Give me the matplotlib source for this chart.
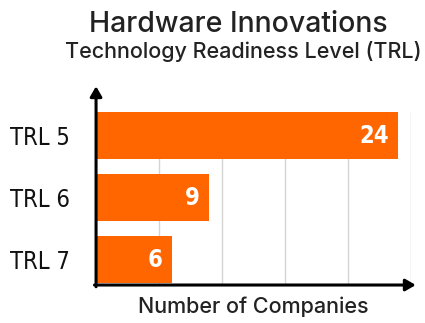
import matplotlib.pyplot as plt

categories = ["TRL 5", "TRL 6", "TRL 7"]
companies = [24, 9, 6]
grid_ticks = [5, 10, 15, 20, 25]

orange = "#FF6600"
ink = "#222222"

fig = plt.figure(figsize=(4.25, 3.23), dpi=100)
ax = fig.add_axes([0.226, 0.1176, 0.741, 0.535])

ypos = list(range(len(categories)))
ax.barh(ypos, companies, height=0.76, color=orange, zorder=2)
ax.set_ylim(2.41, -0.38)
ax.set_xlim(0, 25)

for y, v in zip(ypos, companies):
    ax.text(v - 0.75, y, str(v), ha="right", va="center", color="white",
            fontsize=17, fontweight="bold", family="DejaVu Sans", fontstretch="condensed",
            zorder=3)

ax.set_yticks(ypos)
ax.set_yticklabels(categories, family="DejaVu Sans", fontstretch="condensed",
                   fontsize=17, color="#111111")
ax.tick_params(axis="y", length=0, pad=19)
ax.set_xticks(grid_ticks)
ax.tick_params(axis="x", length=0, labelbottom=False)
ax.grid(axis="x", color="#d4d4d4", linewidth=1, zorder=0)

for s in ax.spines.values():
    s.set_visible(False)

# axis arrows
ax.annotate("", xy=(1.015, 0), xytext=(-0.005, 0), xycoords="axes fraction",
            arrowprops=dict(arrowstyle="-|>,head_length=0.6,head_width=0.35",
                            color="black", lw=2.2, shrinkA=0, shrinkB=0),
            annotation_clip=False)
ax.annotate("", xy=(0, 1.15), xytext=(0, -0.01), xycoords="axes fraction",
            arrowprops=dict(arrowstyle="-|>,head_length=0.6,head_width=0.35",
                            color="black", lw=2.2, shrinkA=0, shrinkB=0),
            annotation_clip=False)

ax.set_xlabel("Number of Companies", family="Inter", fontweight="medium",
              fontsize=15.5, color=ink, labelpad=8)

fig.text(0.56, 0.90, "Hardware Innovations", ha="center", family="Inter",
         fontweight="medium", fontsize=20.5, color=ink)
fig.text(0.572, 0.82, "Technology Readiness Level (TRL)", ha="center", family="Inter",
         fontweight="medium", fontsize=15.5, color=ink)

fig.savefig("out.png", dpi=100)
